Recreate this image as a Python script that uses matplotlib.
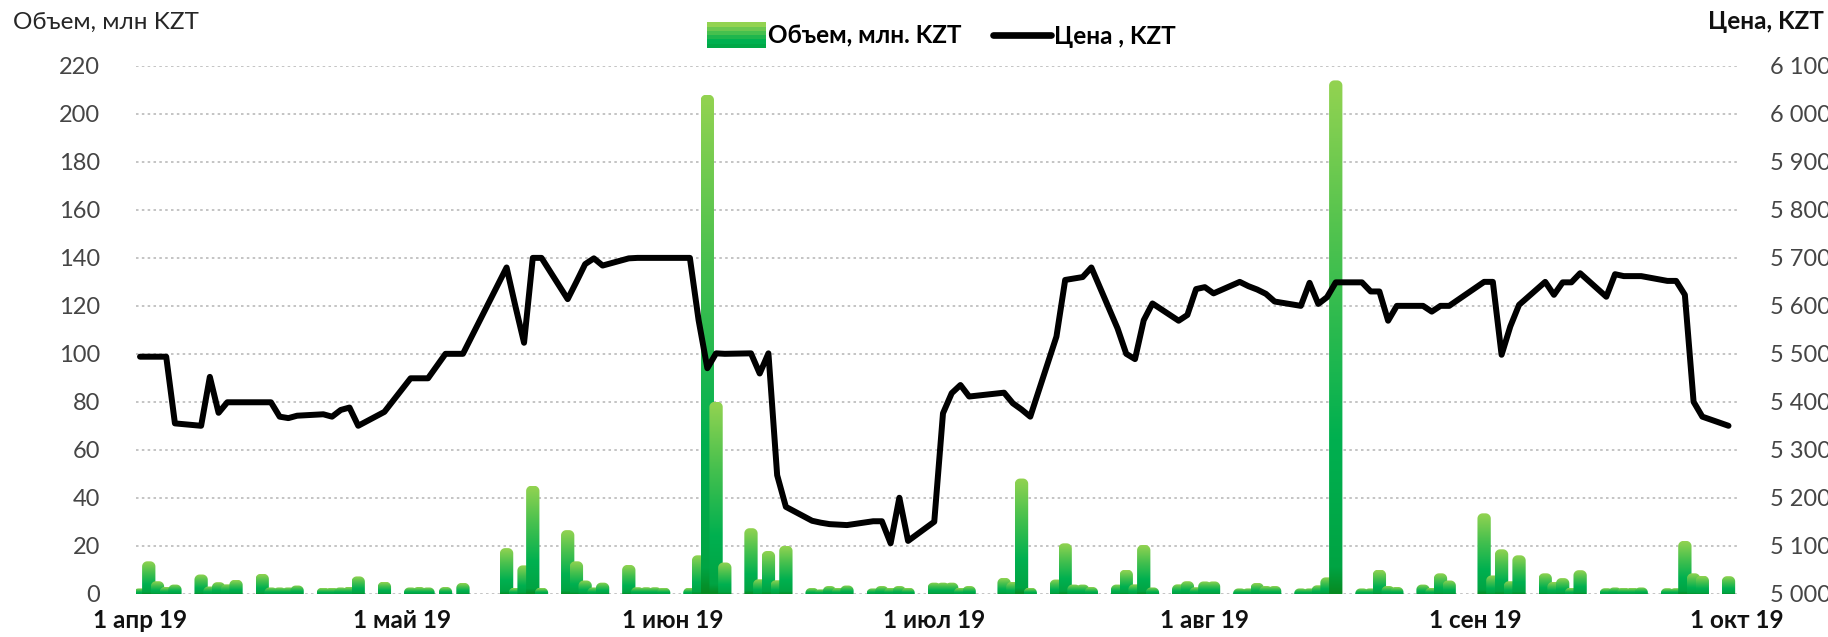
import numpy as np
import pandas as pd
import matplotlib
matplotlib.use("Agg")
import matplotlib.pyplot as plt
import matplotlib.dates as mdates
from matplotlib.patches import PathPatch, FancyBboxPatch
from matplotlib.path import Path
from matplotlib.colors import LinearSegmentedColormap
from matplotlib.lines import Line2D
from matplotlib.legend_handler import HandlerBase

# trading days, volume (mln KZT), price (KZT)
dates = [
    "2019-04-01", "2019-04-02", "2019-04-03", "2019-04-04", "2019-04-05",
    "2019-04-08", "2019-04-09", "2019-04-10", "2019-04-11", "2019-04-12",
    "2019-04-15", "2019-04-16", "2019-04-17", "2019-04-18", "2019-04-19",
    "2019-04-22", "2019-04-23", "2019-04-24", "2019-04-25", "2019-04-26",
    "2019-04-29", "2019-05-02", "2019-05-03", "2019-05-04", "2019-05-06",
    "2019-05-08", "2019-05-13", "2019-05-14", "2019-05-15", "2019-05-16",
    "2019-05-17", "2019-05-20", "2019-05-21", "2019-05-22", "2019-05-23",
    "2019-05-24", "2019-05-27", "2019-05-28", "2019-05-29", "2019-05-30",
    "2019-05-31", "2019-06-03", "2019-06-04", "2019-06-05", "2019-06-06",
    "2019-06-07", "2019-06-10", "2019-06-11", "2019-06-12", "2019-06-13",
    "2019-06-14", "2019-06-17", "2019-06-18", "2019-06-19", "2019-06-20",
    "2019-06-21", "2019-06-24", "2019-06-25", "2019-06-26", "2019-06-27",
    "2019-06-28", "2019-07-01", "2019-07-02", "2019-07-03", "2019-07-04",
    "2019-07-05", "2019-07-09", "2019-07-10", "2019-07-11", "2019-07-12",
    "2019-07-15", "2019-07-16", "2019-07-17", "2019-07-18", "2019-07-19",
    "2019-07-22", "2019-07-23", "2019-07-24", "2019-07-25", "2019-07-26",
    "2019-07-29", "2019-07-30", "2019-07-31", "2019-08-01", "2019-08-02",
    "2019-08-05", "2019-08-06", "2019-08-07", "2019-08-08", "2019-08-09",
    "2019-08-12", "2019-08-13", "2019-08-14", "2019-08-15", "2019-08-16",
    "2019-08-19", "2019-08-20", "2019-08-21", "2019-08-22", "2019-08-23",
    "2019-08-26", "2019-08-27", "2019-08-28", "2019-08-29", "2019-09-02",
    "2019-09-03", "2019-09-04", "2019-09-05", "2019-09-06", "2019-09-09",
    "2019-09-10", "2019-09-11", "2019-09-12", "2019-09-13", "2019-09-16",
    "2019-09-17", "2019-09-18", "2019-09-19", "2019-09-20", "2019-09-23",
    "2019-09-24", "2019-09-25", "2019-09-26", "2019-09-27", "2019-09-30",
]
volume = [
    2.2, 13.5, 5.2, 2.8, 3.8,
    8.0, 3.0, 4.8, 3.9, 5.8,
    8.3, 2.6, 2.6, 2.6, 3.4,
    2.5, 2.5, 2.6, 2.9, 7.2,
    5.0, 2.6, 2.8, 2.6, 2.8,
    4.5, 19.0, 2.5, 11.8, 45.0,
    2.5, 26.5, 13.5, 5.5, 2.6,
    4.6, 12.0, 2.7, 2.7, 2.7,
    2.5, 2.5, 16.0, 208.0, 80.0,
    13.0, 27.3, 6.0, 17.8, 5.6,
    20.0, 2.4, 1.8, 3.2, 2.5,
    3.4, 2.2, 3.2, 2.5, 3.2,
    2.5, 4.6, 4.6, 4.6, 2.5,
    3.2, 6.6, 4.9, 48.0, 2.5,
    5.9, 21.0, 3.8, 3.8, 2.8,
    3.8, 10.0, 3.9, 20.3, 2.6,
    3.9, 5.2, 2.7, 5.1, 5.1,
    2.2, 2.2, 4.5, 3.2, 3.2,
    2.2, 2.2, 3.5, 6.8, 214.0,
    2.2, 2.2, 10.0, 3.2, 2.8,
    3.8, 2.5, 8.5, 5.5, 33.5,
    7.6, 18.5, 5.2, 16.0, 8.5,
    4.9, 6.5, 2.5, 9.8, 2.3,
    2.6, 2.5, 2.5, 2.6, 2.3,
    2.3, 22.0, 8.5, 7.5, 7.3,
]
price = [
    5494, 5494, 5494, 5494, 5355,
    5350, 5452, 5377, 5399, 5399,
    5399, 5399, 5369, 5366, 5371,
    5374, 5369, 5383, 5388, 5350,
    5379, 5449, 5449, 5449, 5500,
    5500, 5680, 5600, 5523, 5700,
    5700, 5614, 5650, 5687, 5699,
    5684, 5699, 5700, 5700, 5700,
    5700, 5700, 5570, 5470, 5501,
    5500, 5501, 5459, 5501, 5247,
    5181, 5152, 5148, 5145, 5144,
    5143, 5151, 5151, 5105, 5200,
    5110, 5150, 5376, 5418, 5435,
    5411, 5419, 5397, 5384, 5369,
    5536, 5654, 5657, 5660, 5680,
    5553, 5500, 5489, 5570, 5605,
    5569, 5581, 5635, 5639, 5626,
    5650, 5641, 5634, 5625, 5609,
    5600, 5648, 5604, 5618, 5649,
    5649, 5630, 5630, 5569, 5600,
    5600, 5588, 5600, 5600, 5650,
    5650, 5498, 5557, 5602, 5650,
    5623, 5649, 5649, 5668, 5619,
    5666, 5662, 5662, 5662, 5652,
    5652, 5623, 5400, 5369, 5350,
]
tick_dates = ["2019-04-01", "2019-05-01", "2019-06-01", "2019-07-01",
              "2019-08-01", "2019-09-01", "2019-10-01"]
tick_labels = ["1 апр 19", "1 май 19", "1 июн 19", "1 июл 19",
               "1 авг 19", "1 сен 19", "1 окт 19"]
vol_ticks = list(range(0, 221, 20))
price_ticks = list(range(5000, 6101, 100))

FONT = ["Lato", "DejaVu Sans"]
plt.rcParams["font.family"] = FONT

x = mdates.date2num(pd.to_datetime(dates))
xt = mdates.date2num(pd.to_datetime(tick_dates))

fig = plt.figure(figsize=(18.28, 6.37), dpi=100)
ax = fig.add_axes([0.0744, 0.068, 0.8769, 0.8284])
x0, x1 = xt[0] - 0.46, xt[-1] + 0.2
ax.set_xlim(x0, x1)
ax.set_ylim(0, 220)

# pixel scales for rounded bar tops
ax_w = 0.8769 * 1828
ax_h = 0.8284 * 637
px_day = ax_w / (x1 - x0)
px_unit = ax_h / 220.0

bar_w = 13.3 / px_day
rx = 5.2 / px_day
ry = 5.2 / px_unit

green = LinearSegmentedColormap.from_list(
    "grn", [(0.0, "#078a22"), (0.05, "#00a443"), (0.3, "#00b050"),
            (0.65, "#45c04e"), (1.0, "#93d351")])
grad = np.linspace(0, 1, 256).reshape(-1, 1)

t = np.linspace(0, np.pi / 2, 12)
for xc, h in zip(x, volume):
    l, r = xc - bar_w / 2, xc + bar_w / 2
    cy = h - ry
    left_arc = np.column_stack([l + rx - rx * np.cos(t), cy + ry * np.sin(t)])
    right_arc = np.column_stack([r - rx + rx * np.sin(t), cy + ry * np.cos(t)])
    pts = np.vstack([[l, -10], left_arc, right_arc, [r, -10], [l, -10]])
    clip = PathPatch(Path(pts), transform=ax.transData)
    im = ax.imshow(grad, cmap=green, origin="lower", aspect="auto",
                   extent=(l, r, 0, max(h, 0.5)), interpolation="bilinear", zorder=2)
    im.set_clip_path(clip)

ax.set_xlim(x0, x1)
ax.set_ylim(0, 220)
ax.set_yticks(vol_ticks)
ax.set_xticks(xt)
ax.set_xticklabels(tick_labels, fontsize=17.5, fontweight="bold", color="#111111")
ax.yaxis.grid(True, linestyle=(0, (1.3, 1.7)), color="#c4c4c4", linewidth=1.4, zorder=0)
ax.set_axisbelow(True)
ax.tick_params(axis="both", length=0)
ax.tick_params(axis="y", pad=26, labelsize=17, labelcolor="#454545")
ax.tick_params(axis="x", pad=11)
for s in ax.spines.values():
    s.set_visible(False)

ax2 = ax.twinx()
ax2.plot(x, price, color="black", linewidth=4.3, solid_joinstyle="round",
         solid_capstyle="round", zorder=5)
ax2.set_ylim(5000, 6100)
ax2.set_xlim(x0, x1)
ax2.set_yticks(price_ticks)
ax2.set_yticklabels([f"{p // 1000} {p % 1000:03d}" for p in price_ticks],
                    fontsize=17, color="#454545")
ax2.tick_params(axis="y", length=0, pad=22)
for s in ax2.spines.values():
    s.set_visible(False)

fig.text(0.007, 0.965, "Объем, млн KZT", fontsize=17.5, color="#262626",
         ha="left", va="center")
fig.text(0.998, 0.966, "Цена, KZT", fontsize=17.5, fontweight="bold",
         color="#111111", ha="right", va="center")


class GradHandler(HandlerBase):
    # rounded swatch with a vertical green gradient, like the bars
    def create_artists(self, legend, orig, xd, yd, width, height, fontsize, trans):
        artists = []
        top = yd + 1.25 * height
        bot = yd - 0.25 * height
        cols = ["#93d351", "#6cc850", "#45c04e", "#1fb64d", "#00b050", "#00a847"]
        n = len(cols)
        step = (top - bot) / n
        for i, c in enumerate(cols):
            y = top - (i + 1) * step
            artists.append(FancyBboxPatch((xd, y), width, step * 1.02,
                                          boxstyle="square,pad=0", facecolor=c,
                                          edgecolor="none", transform=trans))
        return artists


vol_handle = FancyBboxPatch((0, 0), 1, 1)
price_handle = Line2D([], [], color="black", linewidth=4.8, solid_capstyle="round")
fig.legend([vol_handle, price_handle], ["Объем, млн. KZT", "Цена , KZT"],
           handler_map={FancyBboxPatch: GradHandler()},
           loc="center", bbox_to_anchor=(0.515, 0.943), ncol=2, frameon=False,
           prop={"size": 17.5, "weight": "bold", "family": FONT},
           handlelength=2.4, handletextpad=0.1, columnspacing=1.3)

fig.savefig("out.png", dpi=100)
